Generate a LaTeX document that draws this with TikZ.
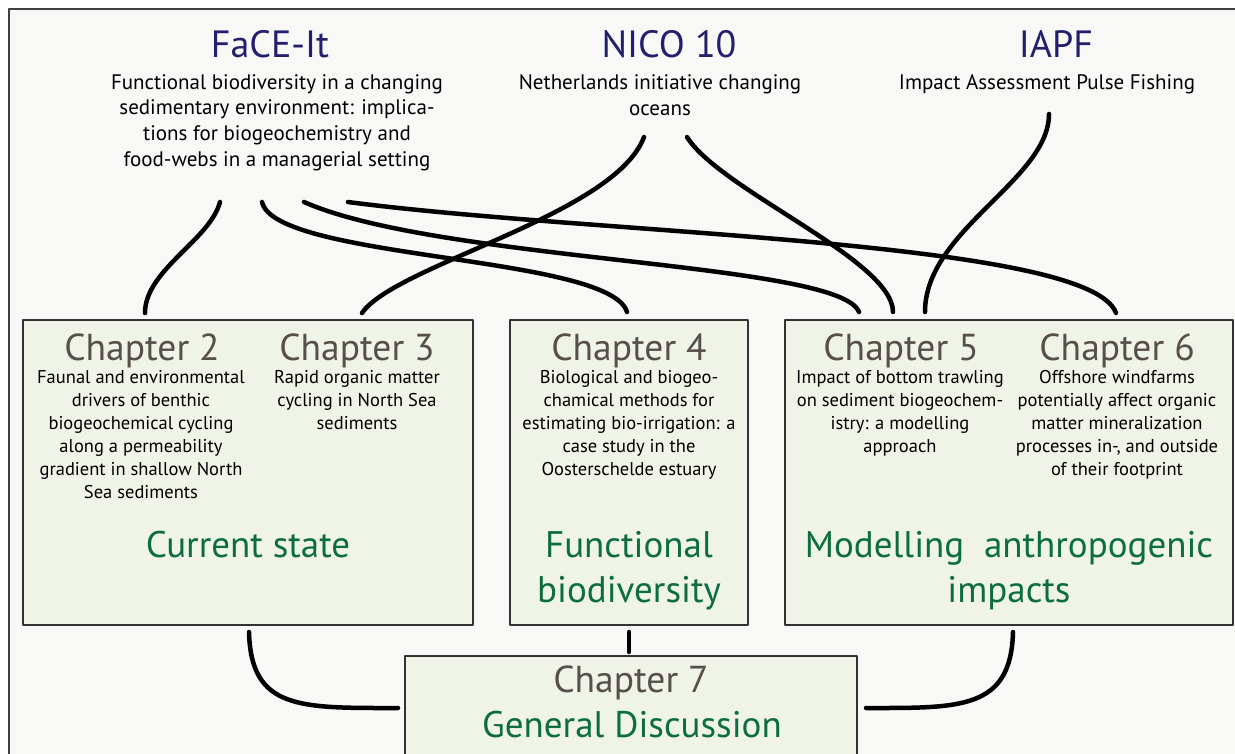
\documentclass[tikz,border=0pt]{standalone}
\usepackage{fontspec}
\setmainfont{PT Sans}
\usetikzlibrary{positioning}
\definecolor{projblue}{HTML}{221F6E}
\definecolor{chapgray}{HTML}{574F4A}
\definecolor{themegreen}{HTML}{0C6E3B}
\definecolor{boxfill}{HTML}{EFF3E8}
\definecolor{paper}{HTML}{F8F8F6}
\begin{document}
\begin{tikzpicture}[line cap=round,line join=round,x=1pt,y=-1pt,
  project/.style={inner sep=0pt,anchor=base,text=projblue,font=\fontsize{38}{40}\selectfont},
  blurb/.style={inner sep=0pt,anchor=base,align=center,font=\fontsize{21}{25.6}\selectfont},
  chapter/.style={inner sep=0pt,anchor=base,text=chapgray,font=\fontsize{37.5}{40}\selectfont},
  summary/.style={inner sep=0pt,anchor=base,align=center,font=\fontsize{18.5}{23}\selectfont},
  theme/.style={inner sep=0pt,anchor=base,align=center,text=themegreen,font=\fontsize{37}{45}\selectfont},
  panel/.style={draw=black!80,line width=1.3pt,fill=boxfill},
  link/.style={line width=4.5pt}]
\useasboundingbox (0,0) rectangle (1235,753);
\fill[white] (0,0) rectangle (1235,753);
\draw[fill=paper,line width=1.3pt,draw=black!75] (9,9) rectangle (1250,770);
% panels
\draw[panel] (23,320) rectangle (473,625);
\draw[panel] (510,320) rectangle (748,625);
\draw[panel] (785,320) rectangle (1233,625);
\draw[panel] (405,656) rectangle (857,760);
% projects (base = last line)
\node[project] (face) at (270,57) {FaCE-It};
\node[project] (nico) at (669,57) {NICO 10};
\node[project] (iapf) at (1056,57) {IAPF};
\node[blurb] (faceblurb) at (277,166) {Functional biodiversity in a changing\\sedimentary environment: implica-\\tions for biogeochemistry and\\food-webs in a managerial setting};
\node[blurb] (nicoblurb) at (660,115) {Netherlands initiative changing\\oceans};
\node[blurb] (iapfblurb) at (1047,89) {Impact Assessment Pulse Fishing};
% chapters
\node[chapter] (ch2) at (142,360) {Chapter 2};
\node[chapter] (ch3) at (357,360) {Chapter 3};
\node[chapter] (ch4) at (629,360) {Chapter 4};
\node[chapter] (ch5) at (901,360) {Chapter 5};
\node[chapter] (ch6) at (1117,360) {Chapter 6};
\node[chapter] (ch7) at (631,692) {Chapter 7};
\node[summary] (sum2) at (141,498) {Faunal and environmental\\drivers of benthic\\biogeochemical cycling\\along a permeability\\gradient in shallow North\\Sea sediments};
\node[summary] (sum3) at (357,429) {Rapid organic matter\\cycling in North Sea\\sediments};
\node[summary] (sum4) at (629,475) {Biological and biogeo-\\chamical methods for\\estimating bio-irrigation: a\\case study in the\\Oosterschelde estuary};
\node[summary] (sum5) at (900,452) {Impact of bottom trawling\\on sediment biogeochem-\\istry: a modelling\\approach};
\node[summary] (sum6) at (1117,475) {Offshore windfarms\\potentially affect organic\\matter mineralization\\processes in-, and outside\\of their footprint};
% themes
\node[theme] (current) at (248,557) {Current state};
\node[theme] (funcbio) at (629,602) {Functional\\biodiversity};
\node[theme] (modimp) at (1009,602) {Modelling\ \ anthropogenic\\impacts};
\node[theme] (gendisc) at (632,737) {General Discussion};
% connector ends
\coordinate (face-a) at (220,202);
\coordinate (face-b) at (262,202);
\coordinate (face-c) at (304,202);
\coordinate (face-d) at (348,202);
\coordinate (nico-a) at (644,137);
\coordinate (nico-b) at (687,137);
\coordinate (iapf-a) at (1049,114);
\coordinate (ch2-in) at (145,313);
\coordinate (ch3-in) at (362,313);
\coordinate (ch4-in) at (627,312);
\coordinate (ch5-a) at (859,312);
\coordinate (ch5-b) at (893,312);
\coordinate (ch5-c) at (925,312);
\coordinate (ch6-in) at (1116,313);
\coordinate (cur-out) at (249,632);
\coordinate (fun-out) at (629,632);
\coordinate (mod-out) at (1013,632);
\coordinate (ch7-l) at (398,708);
\coordinate (ch7-t) at (629,652);
\coordinate (ch7-r) at (866,708);
% links
\draw[link] (face-a) .. controls (210,240) and (145,270) .. (ch2-in);
\draw[link] (face-b) .. controls (275,260) and (610,255) .. (ch4-in);
\draw[link] (face-c) .. controls (440,262) and (840,262) .. (ch5-a);
\draw[link] (face-d) .. controls (600,235) and (1090,240) .. (ch6-in);
\draw[link] (nico-a) .. controls (615,215) and (395,265) .. (ch3-in);
\draw[link] (nico-b) .. controls (720,190) and (893,260) .. (ch5-b);
\draw[link] (iapf-a) .. controls (1049,180) and (925,230) .. (ch5-c);
\draw[link] (cur-out) .. controls (251,710) and (300,708) .. (ch7-l);
\draw[link] (fun-out) -- (ch7-t);
\draw[link] (mod-out) .. controls (1011,710) and (960,708) .. (ch7-r);
\end{tikzpicture}
\end{document}
